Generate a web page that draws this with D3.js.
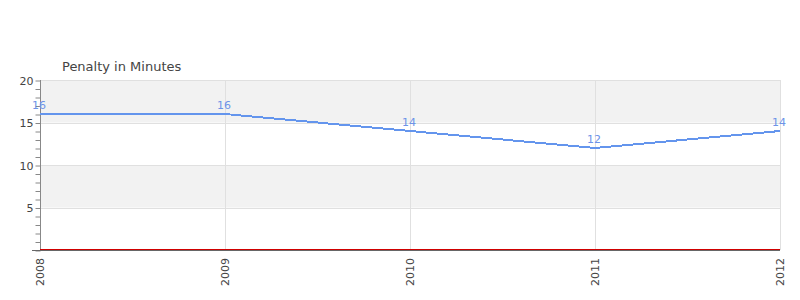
<!DOCTYPE html>
<html><head><meta charset="utf-8">
<script src="https://cdn.jsdelivr.net/npm/d3@7"></script>
<style>body{margin:0;background:#fff}svg{display:block;font-family:"DejaVu Sans",sans-serif}</style>
</head><body>
<svg id="c" width="800" height="300"></svg>
<script>
const years = ["2008","2009","2010","2011","2012"];
const penalty = [16, 16, 14, 12, 14];
const yTicks = [5, 10, 15, 20];
const title = "Penalty in Minutes";

const svg = d3.select("#c");
const L = 40, R = 780, T = 80, B = 250;
const x = d3.scalePoint().domain(years).range([L, R]);
const y = d3.scaleLinear().domain([0, 20]).range([B, T]);

// bands
const bands = [[15,20],[5,10]];
svg.selectAll("rect.band").data(bands).enter().append("rect")
  .attr("x", L).attr("width", R - L)
  .attr("y", d => y(d[1])).attr("height", d => y(d[0]) - y(d[1]))
  .attr("fill", "#f2f2f2");

// horizontal grid
svg.selectAll("line.hg").data(yTicks).enter().append("line")
  .attr("x1", L).attr("x2", R).attr("y1", d => Math.round(y(d)) + 0.5).attr("y2", d => Math.round(y(d)) + 0.5)
  .attr("stroke", "#e0e0e0");
// vertical grid
svg.selectAll("line.vg").data(years).enter().append("line")
  .attr("x1", d => Math.round(x(d)) + 0.5).attr("x2", d => Math.round(x(d)) + 0.5)
  .attr("y1", T).attr("y2", B)
  .attr("stroke", "#e0e0e0");

// y axis
const yAxis = d3.axisLeft(y).tickValues(d3.range(0, 21, 1)).tickSize(5)
  .tickFormat(d => yTicks.includes(d) ? d : "");
const ga = svg.append("g").attr("transform", `translate(${L + 0.5},0.5)`).call(yAxis);
ga.select(".domain").attr("stroke", "#888").attr("d", `M0,${T - 0.5}V${B - 0.5}`);
ga.selectAll(".tick line").attr("stroke", "#888");
ga.selectAll(".tick text").attr("fill", "#444").attr("font-size", 11)
  .attr("font-family", "DejaVu Sans").attr("x", -7);

// baseline
svg.append("line").attr("x1", L).attr("x2", R).attr("y1", B - 0.5).attr("y2", B - 0.5).attr("stroke", "#d00000");
svg.append("line").attr("x1", L - 8).attr("x2", R).attr("y1", B + 0.5).attr("y2", B + 0.5).attr("stroke", "#666");

// x labels
svg.selectAll("text.xl").data(years).enter().append("text")
  .attr("transform", d => `translate(${x(d) + 4},258) rotate(-90)`)
  .attr("text-anchor", "end").attr("font-size", 11).attr("fill", "#444")
  .text(d => d);

// line
const line = d3.line().x((d, i) => x(years[i])).y(d => y(d)).curve(d3.curveLinear);
svg.append("path").datum(penalty).attr("d", line)
  .attr("fill", "none").attr("stroke", "#6495ed").attr("stroke-width", 2)
  .attr("shape-rendering", "crispEdges");

// value labels
svg.selectAll("text.vl").data(penalty).enter().append("text")
  .attr("x", (d, i) => x(years[i]) - 1).attr("y", d => y(d) - 5)
  .attr("text-anchor", "middle").attr("font-size", 11).attr("fill", "#6d93e8")
  .text(d => d);

// title
svg.append("text").attr("x", 62).attr("y", 71).attr("font-size", 13).attr("fill", "#444").text(title);
</script>
</body></html>
